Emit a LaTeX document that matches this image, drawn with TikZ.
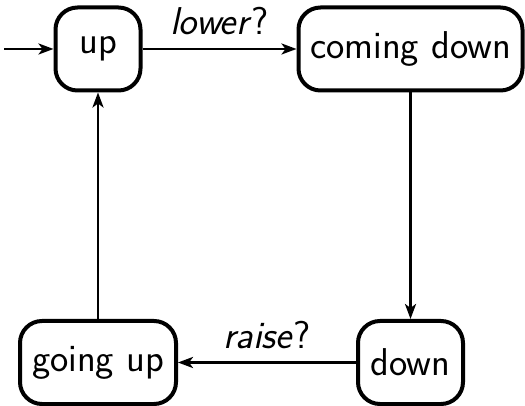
\documentclass[tikz,border=0pt]{standalone}
\usetikzlibrary{arrows.meta}
\begin{document}
\begin{tikzpicture}[x=0.5pt,y=-0.5pt,
  state/.style={draw, line width=2pt, rounded corners=11pt, minimum height=41.5pt,
    inner sep=0pt, font=\sffamily\fontsize{19.4}{22}\selectfont},
  trans/.style={line width=1.35pt, -{Stealth[length=7.5pt,width=5.5pt,inset=2pt]}},
  lbl/.style={anchor=base, yshift=7pt, font=\sffamily\fontsize{19.4}{22}\selectfont}]
  \useasboundingbox (0,0) rectangle (525,406);
  % states
  \node[state, minimum width=42.5pt] (up) at (98,49) {up};
  \node[state, minimum width=112pt] (cd) at (410.5,49) {coming down};
  \node[state, minimum width=52.5pt] (dn) at (410.5,362.5) {down};
  \node[state, minimum width=78pt] (gu) at (98,362.5) {going up};
  \coordinate (init) at (4,49);
  % transitions
  \draw[trans] (init) -- (up);
  \draw[trans] (up) -- node[lbl] {\textit{lower}?} (cd);
  \draw[trans] (cd) -- (dn);
  \draw[trans] (dn) -- node[lbl] {\textit{raise}?} (gu);
  \draw[trans] (gu) -- (up);
\end{tikzpicture}
\end{document}
